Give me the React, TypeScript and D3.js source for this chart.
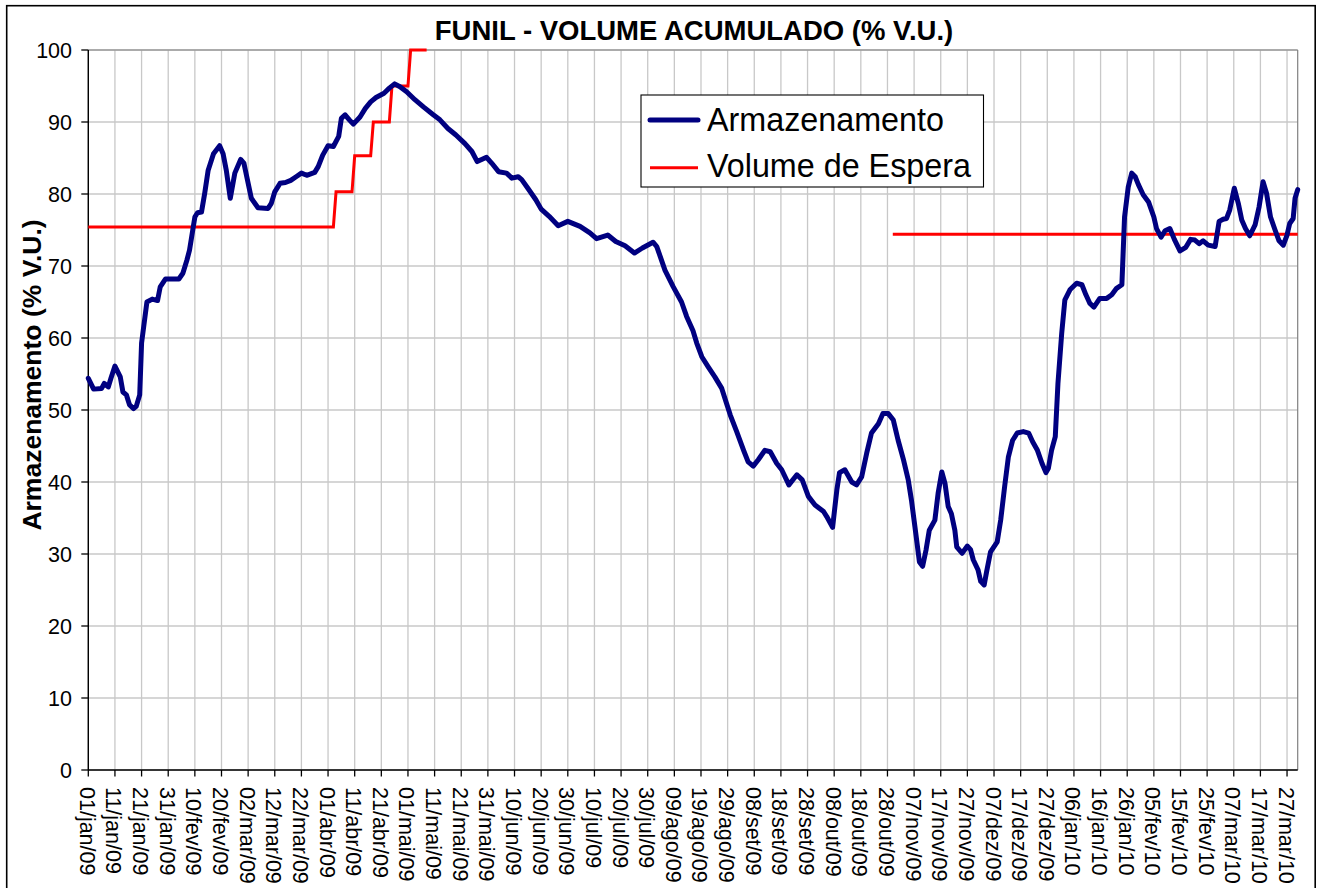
import React from "react";
import * as d3 from "d3";

// Day offsets are counted from 01/jan/09
const armazenamentoDays: number[] = [
  0, 2, 5, 6, 7.5, 8.5, 10, 12, 13, 14.3, 15.5, 17, 18, 19.3, 20, 22, 24, 26, 27, 29,
  34, 35.5, 37, 38, 39.3, 40, 41, 42.5, 43.7, 45, 47, 49.3, 50.6, 51.8, 53.3, 55, 57.2, 58.4, 61.2, 63.7,
  67.5, 68.7, 70, 72, 74, 76, 78, 80, 82, 85, 86.3, 88, 90, 92, 94, 95, 96.4, 98, 99.5, 102,
  104, 106, 108, 111, 113, 115, 117, 119.5, 122.6, 125.8, 129.5, 132, 135, 138, 141.4, 144, 146, 149.5, 151.4, 154,
  157, 159, 161.4, 162.7, 165, 168, 170, 173, 176.4, 180, 184.6, 188.3, 190.8, 195, 198, 201.5, 205, 208, 212, 213.4,
  216.5, 219.6, 222.7, 224.6, 227, 228.4, 230.3, 232.7, 235.2, 237.8, 239.6, 241, 243.4, 246, 247.7, 249.6, 251.5, 254, 256, 258.4,
  260.3, 263, 266, 268, 270.3, 272.8, 276, 277.2, 279.4, 281, 282, 284, 286.6, 288.4, 290.3, 292.2, 294, 296.6, 298.3, 300.3,
  302.2, 304, 306, 307.8, 309, 310.3, 312, 313.2, 314.5, 315.7, 317.8, 319, 320.4, 321.6, 322.8, 324, 325.3, 326, 328, 330,
  331.2, 332.2, 334, 335, 336.3, 337.2, 338.7, 341.2, 342.5, 344, 345.4, 347, 348.7, 351, 353, 354.5, 356.3, 358, 359.5, 360.4,
  361.6, 363, 364, 365.4, 366.6, 368.5, 371, 373, 374.5, 376, 377.5, 379.7, 382.3, 384.2, 386, 388, 389, 390.4, 391.7, 393,
  394.2, 396, 398, 400, 401, 402.7, 404.2, 406, 407.7, 409.8, 412, 413.8, 415.4, 417, 418.5, 420.4, 423, 424.5, 426, 427.3,
  428.5, 430.2, 431.7, 433, 434.4, 436, 438, 439.5, 441, 442.3, 443.8, 445.5, 447, 448.6, 450, 451, 452.3, 453, 454,
];
const armazenamentoValues: number[] = [
  54.4, 52.9, 53.0, 53.7, 53.2, 54.4, 56.1, 54.6, 52.5, 52.1, 50.7, 50.2, 50.5, 52.1, 59.3, 65.0, 65.4, 65.2, 67.1, 68.2,
  68.2, 69.0, 70.8, 72.2, 75.2, 76.8, 77.4, 77.5, 80.1, 83.3, 85.6, 86.7, 85.6, 83.3, 79.4, 82.9, 84.8, 84.3, 79.4, 78.1,
  78.0, 78.7, 80.3, 81.5, 81.6, 81.9, 82.4, 82.9, 82.6, 83.0, 83.8, 85.4, 86.7, 86.6, 88.0, 90.5, 91.0, 90.3, 89.7, 90.7,
  91.9, 92.8, 93.4, 94.0, 94.7, 95.3, 94.9, 94.2, 93.1, 92.1, 91.0, 90.3, 89.1, 88.2, 87.0, 85.9, 84.5, 85.1, 84.3, 83.1,
  82.9, 82.2, 82.4, 82.0, 80.8, 79.2, 77.9, 76.9, 75.6, 76.2, 75.5, 74.6, 73.8, 74.3, 73.4, 72.8, 71.8, 72.5, 73.3, 72.7,
  69.4, 67.1, 65.0, 63.0, 61.0, 59.3, 57.4, 56.0, 54.6, 53.0, 50.9, 49.3, 47.0, 44.4, 42.8, 42.2, 43.1, 44.4, 44.2, 42.6,
  41.7, 39.6, 41.0, 40.3, 38.0, 36.8, 35.9, 35.2, 33.7, 38.9, 41.3, 41.7, 40.0, 39.6, 40.7, 44.0, 46.8, 48.1, 49.5, 49.5,
  48.6, 45.8, 43.1, 40.3, 37.5, 33.8, 28.9, 28.3, 30.6, 33.3, 34.7, 38.4, 41.4, 39.8, 36.6, 35.6, 33.3, 31.0, 30.1, 31.1,
  30.6, 29.2, 27.8, 26.2, 25.7, 27.5, 30.3, 31.7, 34.7, 39.4, 43.5, 45.8, 46.8, 47.0, 46.8, 45.6, 44.4, 42.6, 41.3, 41.9,
  44.4, 46.3, 53.7, 60.6, 65.3, 66.7, 67.6, 67.4, 66.0, 64.8, 64.3, 65.5, 65.5, 66.0, 66.9, 67.4, 76.8, 81.0, 82.9, 82.4,
  81.3, 79.9, 78.9, 76.8, 75.2, 74.0, 74.9, 75.2, 73.7, 72.1, 72.6, 73.7, 73.6, 73.1, 73.5, 72.9, 72.7, 76.2, 76.5, 76.6,
  77.8, 80.8, 78.7, 76.4, 75.2, 74.2, 75.7, 78.2, 81.7, 80.1, 76.8, 75.0, 73.5, 72.9, 74.3, 75.9, 76.6, 79.4, 80.6,
];

// Volume de Espera (null = no value, gap in the line)
const esperaDays: number[] = [0, 92, 93, 99, 100, 106, 107, 113, 114, 120, 121, 127, 200, 302, 454];
const esperaValues: (number | null)[] = [75.4, 75.4, 80.3, 80.3, 85.3, 85.3, 90, 90, 95, 95, 100, 100, null, 74.4, 74.4];

const yTicks: number[] = [0, 10, 20, 30, 40, 50, 60, 70, 80, 90, 100];
const xTickLabels: string[] = [
  "01/jan/09", "11/jan/09", "21/jan/09", "31/jan/09", "10/fev/09", "20/fev/09", "02/mar/09", "12/mar/09",
  "22/mar/09", "01/abr/09", "11/abr/09", "21/abr/09", "01/mai/09", "11/mai/09", "21/mai/09", "31/mai/09",
  "10/jun/09", "20/jun/09", "30/jun/09", "10/jul/09", "20/jul/09", "30/jul/09", "09/ago/09", "19/ago/09",
  "29/ago/09", "08/set/09", "18/set/09", "28/set/09", "08/out/09", "18/out/09", "28/out/09", "07/nov/09",
  "17/nov/09", "27/nov/09", "07/dez/09", "17/dez/09", "27/dez/09", "06/jan/10", "16/jan/10", "26/jan/10",
  "05/fev/10", "15/fev/10", "25/fev/10", "07/mar/10", "17/mar/10", "27/mar/10",
];
const xTickDays: number[] = xTickLabels.map((_, i) => i * 10);
const lastDay = 454;

const FONT = "'Liberation Sans', Arial, Helvetica, sans-serif";

export default function App() {
  const left = 88.3, right = 1297.7, top = 50, bottom = 770;
  const x = d3.scaleLinear().domain([0, lastDay]).range([left, right]);
  const y = d3.scaleLinear().domain([0, 100]).range([bottom, top]);

  const armPts: [number, number][] = armazenamentoDays.map((d, i) => [d, armazenamentoValues[i]]);
  const espPts: [number, number | null][] = esperaDays.map((d, i) => [d, esperaValues[i]]);

  const armLine = d3.line<[number, number]>().x(d => x(d[0])).y(d => y(d[1]));
  const espLine = d3
    .line<[number, number | null]>()
    .defined(d => d[1] !== null)
    .x(d => x(d[0]))
    .y(d => y(d[1] as number));

  return (
    <svg
      width={1320}
      height={888}
      style={{ position: "absolute", left: 0, top: 0, background: "#fff" }}
      fontFamily={FONT}
    >
      <rect x={0} y={0} width={1320} height={888} fill="#fff" />
      {/* chart border */}
      <rect x={6.7} y={5.7} width={1308.5} height={900} fill="none" stroke="#000" strokeWidth={1.6} />

      {/* title */}
      <text x={694} y={40} textAnchor="middle" fontWeight="bold" fontSize={27.5}>
        FUNIL - VOLUME ACUMULADO (% V.U.)
      </text>

      {/* grid */}
      {yTicks.map(t => (
        <line key={"gy" + t} x1={left} x2={right} y1={y(t)} y2={y(t)} stroke="#c8c8c8" strokeWidth={1.3} />
      ))}
      {xTickDays.map(d => (
        <line key={"gx" + d} x1={x(d)} x2={x(d)} y1={top} y2={bottom} stroke="#c8c8c8" strokeWidth={1.3} />
      ))}
      <line x1={left} x2={right} y1={top} y2={top} stroke="#808080" strokeWidth={1.2} />
      <line x1={right} x2={right} y1={top} y2={bottom} stroke="#808080" strokeWidth={1.2} />

      {/* axes */}
      <line x1={left} x2={left} y1={top} y2={bottom} stroke="#000" strokeWidth={1.4} />
      <line x1={left} x2={right} y1={bottom} y2={bottom} stroke="#000" strokeWidth={1.4} />
      {yTicks.map(t => (
        <g key={"yt" + t}>
          <line x1={left - 7} x2={left} y1={y(t)} y2={y(t)} stroke="#000" strokeWidth={1.3} />
          <text x={72} y={y(t)} dy="0.36em" textAnchor="end" fontSize={21.5}>
            {t}
          </text>
        </g>
      ))}
      {xTickDays.map((d, i) => (
        <g key={"xt" + d}>
          <line x1={x(d)} x2={x(d)} y1={bottom} y2={bottom + 6.5} stroke="#000" strokeWidth={1.3} />
          <text
            transform={`translate(${x(d)},787) rotate(90)`}
            x={0}
            y={8.5}
            textAnchor="start"
            fontSize={21.5}
          >
            {xTickLabels[i]}
          </text>
        </g>
      ))}

      {/* y axis title */}
      <text
        transform={`translate(40.5,375) rotate(-90)`}
        textAnchor="middle"
        fontWeight="bold"
        fontSize={26.5}
      >
        Armazenamento (% V.U.)
      </text>

      {/* series */}
      <path d={espLine(espPts) || ""} fill="none" stroke="#ff0000" strokeWidth={3} />
      <path
        d={armLine(armPts) || ""}
        fill="none"
        stroke="#000080"
        strokeWidth={5}
        strokeLinejoin="round"
        strokeLinecap="round"
      />

      {/* legend */}
      <rect x={641} y={95} width={342.5} height={92} fill="#fff" stroke="#000" strokeWidth={1.1} />
      <line x1={650} x2={698} y1={120} y2={120} stroke="#000080" strokeWidth={5} strokeLinecap="round" />
      <text x={707} y={131} fontSize={32.3}>
        Armazenamento
      </text>
      <line x1={650} x2={698} y1={167.7} y2={167.7} stroke="#ff0000" strokeWidth={3} />
      <text x={707} y={177} fontSize={32.3}>
        Volume de Espera
      </text>
    </svg>
  );
}
